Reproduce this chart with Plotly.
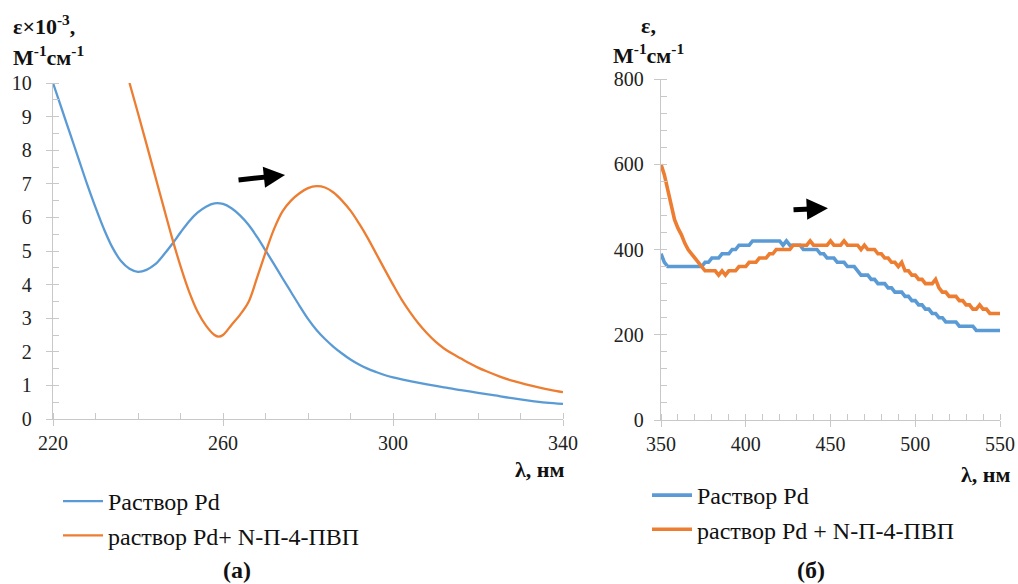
import plotly.graph_objects as go

# ---- (a) UV spectra, 220-340 nm, epsilon x 1e-3 ----
wl_a_pd = [220, 222, 224, 226, 228, 230, 232, 234, 236, 238, 240, 242, 244, 246, 248,
           250, 252, 254, 256, 258, 260, 262, 264, 266, 268, 270, 272, 274, 276, 278,
           280, 282, 284, 286, 288, 290, 292, 294, 296, 298, 300, 304, 308, 312, 316,
           320, 324, 328, 332, 336, 340]
eps_a_pd = [10.0, 9.25, 8.5, 7.75, 7.0, 6.3, 5.65, 5.1, 4.7, 4.47, 4.38, 4.44, 4.6, 4.88, 5.2,
            5.55, 5.88, 6.14, 6.32, 6.42, 6.4, 6.27, 6.06, 5.78, 5.42, 5.02, 4.61, 4.19, 3.78, 3.37,
            2.98, 2.65, 2.38, 2.15, 1.95, 1.77, 1.62, 1.5, 1.4, 1.31, 1.24, 1.13, 1.03, 0.94, 0.86,
            0.78, 0.7, 0.62, 0.55, 0.49, 0.45]

wl_a_cplx = [238, 240, 242, 244, 246, 248, 250, 252, 254, 256, 258, 259, 260, 262, 264,
             266, 268, 270, 272, 274, 276, 278, 280, 282, 284, 286, 288, 290, 292, 294,
             296, 298, 300, 302, 304, 306, 308, 310, 312, 314, 316, 318, 320, 322, 325,
             328, 331, 334, 337, 340]
eps_a_cplx = [10.0, 9.1, 8.18, 7.25, 6.32, 5.4, 4.55, 3.8, 3.2, 2.78, 2.5, 2.45, 2.5, 2.8, 3.1,
              3.48, 4.2, 4.95, 5.65, 6.18, 6.5, 6.72, 6.87, 6.93, 6.89, 6.74, 6.5, 6.2, 5.82, 5.4,
              4.93, 4.46, 4.0, 3.56, 3.18, 2.84, 2.55, 2.3, 2.1, 1.94, 1.8, 1.66, 1.53, 1.42, 1.27,
              1.14, 1.04, 0.95, 0.87, 0.8]

# ---- (б) visible spectra, 350-550 nm, 2 nm step ----
wl_b = list(range(350, 552, 2))
eps_b_pd = [390, 370, 360, 360, 360, 360, 360, 360, 360, 360, 360, 360, 360, 370, 370,
            380, 380, 380, 390, 390, 390, 400, 400, 410, 410, 410, 410, 420, 420, 420,
            420, 420, 420, 420, 420, 420, 410, 420, 410, 410, 410, 410, 400, 400, 400,
            400, 400, 390, 390, 380, 380, 380, 370, 370, 370, 360, 360, 360, 350, 340,
            340, 340, 330, 330, 320, 320, 320, 310, 310, 300, 300, 300, 290, 290, 280,
            280, 270, 270, 260, 260, 250, 250, 240, 240, 230, 230, 230, 230, 220, 220,
            220, 220, 220, 210, 210, 210, 210, 210, 210, 210, 210]
eps_b_cplx = [600, 575, 540, 505, 470, 450, 435, 415, 400, 390, 380, 370, 360, 350, 350,
              350, 350, 340, 350, 340, 350, 350, 350, 360, 360, 360, 370, 370, 370, 380,
              380, 380, 390, 390, 400, 400, 400, 400, 400, 410, 410, 410, 410, 410, 420,
              410, 410, 410, 410, 410, 420, 410, 410, 410, 420, 410, 410, 410, 410, 400,
              410, 400, 400, 400, 390, 390, 380, 380, 370, 370, 360, 370, 350, 350, 340,
              340, 330, 330, 320, 320, 320, 330, 310, 300, 300, 290, 290, 290, 280, 280,
              270, 270, 260, 260, 270, 260, 260, 250, 250, 250, 250]

name_pd_a = "Раствор Pd"
name_cplx_a = "раствор Pd+ N-П-4-ПВП"
name_pd_b = "Раствор Pd"
name_cplx_b = "раствор Pd + N-П-4-ПВП"

BLUE = "#5b9bd5"
ORANGE = "#ed7d31"
SERIF = "Liberation Serif, Tinos, DejaVu Serif, serif"
AXIS_GREY = "#c8c8c8"
W, H = 1018, 584

fig = go.Figure()
fig.add_trace(go.Scatter(x=wl_a_pd, y=eps_a_pd, mode="lines", name=name_pd_a,
                         line=dict(color=BLUE, width=2.3, shape="spline", smoothing=1.0),
                         xaxis="x", yaxis="y", legend="legend"))
fig.add_trace(go.Scatter(x=wl_a_cplx, y=eps_a_cplx, mode="lines", name=name_cplx_a,
                         line=dict(color=ORANGE, width=2.3, shape="spline", smoothing=1.0),
                         xaxis="x", yaxis="y", legend="legend"))
fig.add_trace(go.Scatter(x=wl_b, y=eps_b_pd, mode="lines", name=name_pd_b,
                         line=dict(color=BLUE, width=3.6),
                         xaxis="x2", yaxis="y2", legend="legend2"))
fig.add_trace(go.Scatter(x=wl_b, y=eps_b_cplx, mode="lines", name=name_cplx_b,
                         line=dict(color=ORANGE, width=3.6),
                         xaxis="x2", yaxis="y2", legend="legend2"))


def px_x(p):
    return p / W


def px_y(p):
    return 1 - p / H


tickfont = dict(family=SERIF, size=20, color="#222")
common = dict(showline=True, linecolor=AXIS_GREY, linewidth=1.3, showgrid=False, zeroline=False,
              ticks="outside", tickcolor=AXIS_GREY, tickwidth=1.3, ticklen=6, tickfont=tickfont,
              automargin=False)
minor = dict(ticks="inside", ticklen=6, tickcolor=AXIS_GREY, tickwidth=1.3, showgrid=False)

fig.update_layout(
    width=W, height=H, margin=dict(l=0, r=0, t=0, b=0),
    paper_bgcolor="white", plot_bgcolor="white",
    xaxis=dict(domain=[px_x(53), px_x(563)], range=[220, 340], tickvals=[220, 260, 300, 340],
               minor=dict(dtick=10, **minor), anchor="y", ticklabelstandoff=0, **common),
    yaxis=dict(domain=[px_y(419), px_y(83)], range=[0, 10], dtick=1,
               minor=dict(dtick=0.5, **minor), anchor="x", ticklabelstandoff=10, **common),
    xaxis2=dict(domain=[px_x(661), px_x(1000)], range=[350, 550], dtick=50,
                minor=dict(dtick=10, **minor), anchor="y2", ticklabelstandoff=0, **common),
    yaxis2=dict(domain=[px_y(420), px_y(79)], range=[0, 800], dtick=200,
                minor=dict(dtick=40, **minor), anchor="x2", ticklabelstandoff=6, **common),
    legend=dict(x=px_x(58), y=px_y(479), xanchor="left", yanchor="top",
                font=dict(family=SERIF, size=24, color="#111"), tracegroupgap=0,
                bgcolor="rgba(0,0,0,0)", itemwidth=40),
    legend2=dict(x=px_x(647), y=px_y(473), xanchor="left", yanchor="top",
                 font=dict(family=SERIF, size=24, color="#111"), tracegroupgap=0,
                 bgcolor="rgba(0,0,0,0)", itemwidth=40),
    showlegend=True,
)

lab = dict(family=SERIF, size=22, color="#111")
annotations = [
    dict(text="<b>ε×10<sup>-3</sup>,</b>", x=px_x(11), y=px_y(25), xanchor="left", yanchor="middle"),
    dict(text="<b>М<sup>-1</sup>см<sup>-1</sup></b>", x=px_x(11), y=px_y(56), xanchor="left", yanchor="middle"),
    dict(text="<b>λ, нм</b>", x=px_x(566), y=px_y(469), xanchor="right", yanchor="middle"),
    dict(text="<b>ε,</b>", x=px_x(639), y=px_y(26), xanchor="left", yanchor="middle"),
    dict(text="<b>М<sup>-1</sup>см<sup>-1</sup></b>", x=px_x(611), y=px_y(54), xanchor="left", yanchor="middle"),
    dict(text="<b>λ, нм</b>", x=px_x(1012), y=px_y(474), xanchor="right", yanchor="middle"),
    dict(text="<b>(а)</b>", x=px_x(237), y=px_y(570), xanchor="center", yanchor="middle",
         font=dict(family=SERIF, size=24, color="#111")),
    dict(text="<b>(б)</b>", x=px_x(811), y=px_y(570), xanchor="center", yanchor="middle",
         font=dict(family=SERIF, size=24, color="#111")),
]
for a in annotations:
    a.setdefault("font", lab)
    a.update(xref="paper", yref="paper", showarrow=False)

# shift arrows (red-shift of the absorption band)
annotations.append(dict(x=274.6, y=7.26, ax=263.3, ay=7.11, xref="x", yref="y", axref="x", ayref="y",
                        text="", showarrow=True, arrowhead=2, arrowsize=0.85, arrowwidth=5,
                        arrowcolor="black"))
annotations.append(dict(x=448.5, y=497, ax=427.3, ay=493, xref="x2", yref="y2", axref="x2", ayref="y2",
                        text="", showarrow=True, arrowhead=2, arrowsize=0.85, arrowwidth=5,
                        arrowcolor="black"))
fig.update_layout(annotations=annotations)

fig.write_html("out.html")
